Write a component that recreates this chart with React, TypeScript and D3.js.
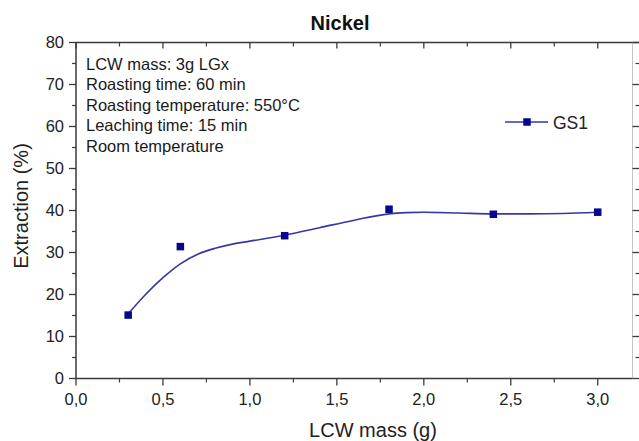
import React from "react";
import { scaleLinear, line, curveMonotoneX, range } from "d3";

// measured points (LCW mass g -> extraction %)
const massG = [0.3, 0.6, 1.2, 1.8, 2.4, 3.0];
const extraction = [15.1, 31.4, 34.0, 40.3, 39.1, 39.6];

// fitted curve
const fitMass = [0.3, 0.4, 0.5, 0.6, 0.7, 0.8, 0.9, 1.0, 1.2, 1.4, 1.6, 1.8, 1.9, 2.0, 2.2, 2.4, 2.6, 2.8, 3.0];
const fitExtraction = [15.4, 20.0, 24.0, 27.3, 29.6, 31.0, 32.0, 32.7, 34.1, 35.9, 37.7, 39.2, 39.5, 39.6, 39.4, 39.2, 39.2, 39.3, 39.6];

const xTicks = [0, 0.5, 1.0, 1.5, 2.0, 2.5, 3.0];
const yTicks = [0, 10, 20, 30, 40, 50, 60, 70, 80];
const notes = [
  "LCW mass: 3g LGx",
  "Roasting time: 60 min",
  "Roasting temperature: 550°C",
  "Leaching time: 15 min",
  "Room temperature",
];

const W = 639;
const H = 441;
const LEFT = 76;
const RIGHT = 632.5;
const TOP = 42.5;
const BOTTOM = 378.5;
const BLUE = "#05058f";
const LINE_BLUE = "#3636a6";
const AXIS = "#3a3a3a";
const FONT = "'Liberation Sans', Arial, Helvetica, sans-serif";

export default function App() {
  const x = scaleLinear().domain([0, 3.2]).range([LEFT, RIGHT]);
  const y = scaleLinear().domain([0, 80]).range([BOTTOM, TOP]);

  const fitPath = line<number>()
    .x((d, i) => x(fitMass[i]))
    .y((d) => y(d))
    .curve(curveMonotoneX)(fitExtraction);

  const xMinor = range(0.25, 3.2, 0.5);
  const yMinor = range(5, 80, 10);
  const sq = 7.5;

  return (
    <svg width={W} height={H} style={{ position: "absolute", left: 0, top: 0, background: "#fff" }} fontFamily={FONT}>
      {/* title */}
      <text x={340} y={30} textAnchor="middle" fontSize={20} fontWeight="bold" fill="#111">Nickel</text>

      {/* frame */}
      <line x1={LEFT} x2={W} y1={TOP} y2={TOP} stroke={AXIS} strokeWidth={1.5} />
      <line x1={RIGHT} x2={RIGHT} y1={TOP} y2={BOTTOM} stroke="#c4c4c4" strokeWidth={1} />
      <line x1={LEFT} x2={RIGHT} y1={BOTTOM} y2={BOTTOM} stroke={AXIS} strokeWidth={1.5} />
      <line x1={LEFT} x2={LEFT} y1={TOP} y2={BOTTOM} stroke={AXIS} strokeWidth={1.5} />

      {/* bottom + top ticks */}
      {xTicks.map((t) => (
        <g key={"xt" + t}>
          <line x1={x(t)} x2={x(t)} y1={BOTTOM} y2={BOTTOM + 7} stroke={AXIS} strokeWidth={1.3} />
          <line x1={x(t)} x2={x(t)} y1={TOP} y2={TOP + 6} stroke={AXIS} strokeWidth={1.3} />
          <text x={x(t)} y={405} textAnchor="middle" fontSize={16.5} fill="#222">
            {t.toFixed(1).replace(".", ",")}
          </text>
        </g>
      ))}
      {xMinor.map((t) => (
        <g key={"xm" + t}>
          <line x1={x(t)} x2={x(t)} y1={BOTTOM} y2={BOTTOM + 4} stroke={AXIS} strokeWidth={1.2} />
          <line x1={x(t)} x2={x(t)} y1={TOP} y2={TOP + 4} stroke={AXIS} strokeWidth={1.2} />
        </g>
      ))}

      {/* left + right ticks */}
      {yTicks.map((t) => (
        <g key={"yt" + t}>
          <line x1={LEFT - 7} x2={LEFT} y1={y(t)} y2={y(t)} stroke={AXIS} strokeWidth={1.3} />
          <line x1={RIGHT} x2={RIGHT + 7} y1={y(t)} y2={y(t)} stroke={AXIS} strokeWidth={1.3} />
          <text x={64} y={y(t)} dy="0.36em" textAnchor="end" fontSize={16.5} fill="#222">{t}</text>
        </g>
      ))}
      {yMinor.map((t) => (
        <g key={"ym" + t}>
          <line x1={LEFT - 4} x2={LEFT} y1={y(t)} y2={y(t)} stroke={AXIS} strokeWidth={1.2} />
          <line x1={RIGHT + 3} x2={RIGHT + 7} y1={y(t)} y2={y(t)} stroke={AXIS} strokeWidth={1.2} />
        </g>
      ))}

      {/* axis titles */}
      <text x={373} y={437} textAnchor="middle" fontSize={20} fill="#222">LCW mass (g)</text>
      <text transform={`translate(28,206) rotate(-90)`} textAnchor="middle" fontSize={20} fill="#222">Extraction (%)</text>

      {/* notes */}
      {notes.map((n, i) => (
        <text key={n} x={86} y={70 + i * 20.4} fontSize={16.5} fill="#1a1a1a">{n}</text>
      ))}

      {/* fit + points */}
      <path d={fitPath ?? ""} fill="none" stroke={LINE_BLUE} strokeWidth={1.6} />
      {massG.map((m, i) => (
        <rect key={"p" + m} x={x(m) - sq / 2} y={y(extraction[i]) - sq / 2} width={sq} height={sq} fill={BLUE} />
      ))}

      {/* legend */}
      <line x1={505} x2={548} y1={122} y2={122} stroke={LINE_BLUE} strokeWidth={1.6} />
      <rect x={527 - sq / 2} y={122 - sq / 2} width={sq} height={sq} fill={BLUE} />
      <text x={553} y={128.5} fontSize={17.5} fill="#222">GS1</text>
    </svg>
  );
}
